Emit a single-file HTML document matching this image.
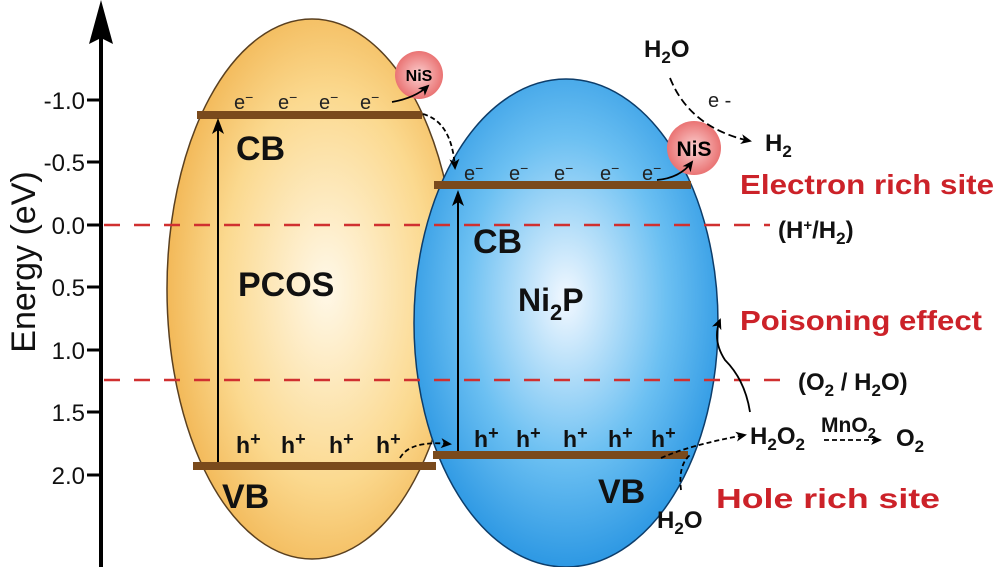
<!DOCTYPE html>
<html><head><meta charset="utf-8"><style>
html,body{margin:0;padding:0;background:#fff}
svg{display:block}
text{font-family:"Liberation Sans",Arial,sans-serif}
</style></head><body>
<svg width="995" height="567" viewBox="0 0 995 567" xmlns="http://www.w3.org/2000/svg">
<defs>
<radialGradient id="yg" cx="0.55" cy="0.5" r="0.6">
<stop offset="0" stop-color="#fff8e8"/><stop offset="0.6" stop-color="#fbd98f"/><stop offset="1" stop-color="#f0b04a"/>
</radialGradient>
<radialGradient id="bg" cx="0.5" cy="0.45" r="0.6">
<stop offset="0" stop-color="#f2f8ff"/><stop offset="0.55" stop-color="#6cc0f2"/><stop offset="1" stop-color="#1f8fe0"/>
</radialGradient>
<radialGradient id="rg" cx="0.5" cy="0.5" r="0.55">
<stop offset="0" stop-color="#fbd0d0"/><stop offset="1" stop-color="#e86a6a"/>
</radialGradient>
<marker id="ah" markerWidth="12" markerHeight="12" refX="9" refY="6" orient="auto" markerUnits="userSpaceOnUse">
<path d="M0,1 L11,6 L0,11 L3,6 Z" fill="#000"/></marker>
</defs>
<line x1="101" y1="567" x2="101" y2="30" stroke="#000" stroke-width="4"/>
<path d="M101,0 L89,44 L101,38 L113,44 Z" fill="#000"/>
<g stroke="#000" stroke-width="3">
<line x1="87" y1="100" x2="101" y2="100"/><line x1="87" y1="162" x2="101" y2="162"/>
<line x1="87" y1="225" x2="101" y2="225"/><line x1="87" y1="287" x2="101" y2="287"/>
<line x1="87" y1="350" x2="101" y2="350"/><line x1="87" y1="412" x2="101" y2="412"/>
<line x1="87" y1="475" x2="101" y2="475"/>
</g>
<g font-size="24" text-anchor="end" fill="#111">
<text x="85" y="109">-1.0</text><text x="85" y="171">-0.5</text><text x="85" y="234">0.0</text>
<text x="85" y="296">0.5</text><text x="85" y="359">1.0</text><text x="85" y="421">1.5</text><text x="85" y="484">2.0</text>
</g>
<text transform="translate(35,262) rotate(-90)" font-size="34" text-anchor="middle" fill="#111">Energy (eV)</text>
<ellipse cx="312" cy="289" rx="145" ry="270" fill="url(#yg)" stroke="#5a4020" stroke-width="1.5"/>
<ellipse cx="566" cy="323" rx="152" ry="244" fill="url(#bg)" stroke="#0d3d6a" stroke-width="1.5"/>
<line x1="104" y1="225" x2="770" y2="225" stroke="#d03030" stroke-width="2.5" stroke-dasharray="16,14"/>
<line x1="104" y1="380" x2="790" y2="380" stroke="#d03030" stroke-width="2.5" stroke-dasharray="16,14"/>
<g fill="#7a4a1c">
<rect x="197" y="111" width="225" height="8"/>
<rect x="193" y="462" width="243" height="8"/>
<rect x="434" y="181" width="257" height="8"/>
<rect x="433" y="451" width="255" height="8"/>
</g>
<line x1="218" y1="462" x2="218" y2="128" stroke="#000" stroke-width="2"/>
<path d="M218,118 L212,134 L218,130 L224,134 Z" fill="#000"/>
<line x1="458" y1="451" x2="458" y2="200" stroke="#000" stroke-width="2"/>
<path d="M458,190 L452,206 L458,202 L464,206 Z" fill="#000"/>
<circle cx="419" cy="75" r="24" fill="url(#rg)"/>
<circle cx="694" cy="148" r="27" fill="url(#rg)"/>
<text x="419" y="81" font-size="16" font-weight="bold" text-anchor="middle">NiS</text>
<text x="694" y="156" font-size="21" font-weight="bold" text-anchor="middle">NiS</text>
<g font-size="20" fill="#222">
<text x="234" y="109">e<tspan font-size="14" dy="-7">−</tspan></text>
<text x="278" y="109">e<tspan font-size="14" dy="-7">−</tspan></text>
<text x="319" y="109">e<tspan font-size="14" dy="-7">−</tspan></text>
<text x="360" y="109">e<tspan font-size="14" dy="-7">−</tspan></text>
<text x="464" y="180">e<tspan font-size="14" dy="-7">−</tspan></text>
<text x="509" y="180">e<tspan font-size="14" dy="-7">−</tspan></text>
<text x="554" y="180">e<tspan font-size="14" dy="-7">−</tspan></text>
<text x="600" y="180">e<tspan font-size="14" dy="-7">−</tspan></text>
<text x="642" y="180">e<tspan font-size="14" dy="-7">−</tspan></text>
<text x="708" y="107" font-size="20">e -</text>
</g>
<g font-size="23" font-weight="bold" fill="#111">
<text x="236" y="453">h<tspan font-size="18" dy="-8">+</tspan></text>
<text x="281" y="453">h<tspan font-size="18" dy="-8">+</tspan></text>
<text x="329" y="453">h<tspan font-size="18" dy="-8">+</tspan></text>
<text x="376" y="453">h<tspan font-size="18" dy="-8">+</tspan></text>
<text x="474" y="447">h<tspan font-size="18" dy="-8">+</tspan></text>
<text x="516" y="447">h<tspan font-size="18" dy="-8">+</tspan></text>
<text x="563" y="447">h<tspan font-size="18" dy="-8">+</tspan></text>
<text x="608" y="447">h<tspan font-size="18" dy="-8">+</tspan></text>
<text x="651" y="447">h<tspan font-size="18" dy="-8">+</tspan></text>
</g>
<g font-weight="bold" fill="#111">
<text x="236" y="160" font-size="34">CB</text>
<text x="222" y="508" font-size="34">VB</text>
<text x="238" y="296" font-size="34">PCOS</text>
<text x="473" y="253" font-size="34">CB</text>
<text x="598" y="503" font-size="34">VB</text>
<text x="518" y="311" font-size="32">Ni<tspan font-size="22" dy="9">2</tspan><tspan dy="-9">P</tspan></text>
<text x="644" y="57" font-size="24">H<tspan font-size="17" dy="6">2</tspan><tspan dy="-6">O</tspan></text>
<text x="765" y="151" font-size="24">H<tspan font-size="17" dy="6">2</tspan></text>
<text x="778" y="238" font-size="24">(H<tspan font-size="15" dy="-8">+</tspan><tspan dy="8">/H</tspan><tspan font-size="17" dy="6">2</tspan><tspan dy="-6">)</tspan></text>
<text x="798" y="390" font-size="24">(O<tspan font-size="17" dy="6">2</tspan><tspan dy="-6"> / H</tspan><tspan font-size="17" dy="6">2</tspan><tspan dy="-6">O)</tspan></text>
<text x="750" y="444" font-size="24">H<tspan font-size="17" dy="6">2</tspan><tspan dy="-6">O</tspan><tspan font-size="17" dy="6">2</tspan></text>
<text x="821" y="432" font-size="21">MnO<tspan font-size="15" dy="6">2</tspan></text>
<text x="896" y="446" font-size="24">O<tspan font-size="17" dy="6">2</tspan></text>
<text x="657" y="528" font-size="24">H<tspan font-size="17" dy="6">2</tspan><tspan dy="-6">O</tspan></text>
</g>
<g font-weight="bold" fill="#cc2229" font-size="28">
<text x="740" y="194" textLength="254" lengthAdjust="spacingAndGlyphs">Electron rich site</text>
<text x="740" y="330" textLength="242" lengthAdjust="spacingAndGlyphs">Poisoning effect</text>
<text x="716" y="508" textLength="224" lengthAdjust="spacingAndGlyphs">Hole rich site</text>
</g>
<g fill="none" stroke="#000" stroke-width="1.8">
<path d="M392,102 Q415,98 428,86" marker-end="url(#ah)"/>
<path d="M423,114 Q452,122 455,168" stroke-dasharray="5,3" marker-end="url(#ah)"/>
<path d="M657,180 Q680,178 692,162" marker-end="url(#ah)"/>
<path d="M670,78 Q690,128 750,141" stroke-dasharray="8,4" marker-end="url(#ah)"/>
<path d="M400,458 Q410,440 450,444" stroke-dasharray="5,3" marker-end="url(#ah)"/>
<path d="M661,458 Q690,445 745,435" stroke-dasharray="5,3" marker-end="url(#ah)"/>
<path d="M681,490 Q678,465 690,455" stroke-dasharray="5,3"/>
<path d="M750,412 Q745,380 725,360 Q712,340 720,320" marker-end="url(#ah)"/>
<path d="M824,440 L880,440" stroke-dasharray="5,3" marker-end="url(#ah)"/>
</g>
</svg>
</body></html>
